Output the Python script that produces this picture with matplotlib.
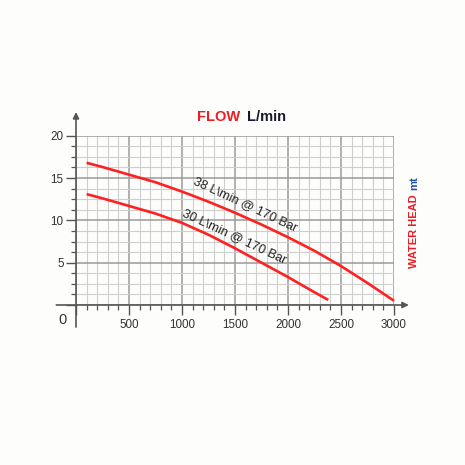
import matplotlib
matplotlib.use("Agg")
import matplotlib.pyplot as plt
import numpy as np

# Data
flow_38 = [100, 250, 500, 750, 1000, 1250, 1500, 1750, 2000, 2250, 2500, 2750, 3000]
head_38 = [16.8, 16.3, 15.4, 14.5, 13.4, 12.2, 10.9, 9.5, 8.0, 6.4, 4.6, 2.6, 0.5]
flow_30 = [100, 250, 500, 750, 1000, 1250, 1500, 1750, 2000, 2250, 2380]
head_30 = [13.1, 12.6, 11.7, 10.8, 9.7, 8.3, 6.7, 5.0, 3.3, 1.5, 0.6]
label_38 = "38 L\\min @ 170 Bar"
label_30 = "30 L\\min @ 170 Bar"
x_major = [0, 500, 1000, 1500, 2000, 2500, 3000]
x_labels = ["", "500", "1000", "1500", "2000", "2500", "3000"]
y_major = [0, 5, 10, 15, 20]
y_labels = ["", "5", "10", "15", "20"]

plt.rcParams['font.family'] = ['Liberation Sans', 'DejaVu Sans']

fig = plt.figure(figsize=(4.65, 4.65), dpi=100)
fig.patch.set_facecolor('#fdfdfc')
W = H = 465
ax = fig.add_axes([76 / W, (H - 305) / H, 318 / W, 169.3 / H])
ax.set_facecolor('#fdfdfc')
ax.set_xlim(0, 3000)
ax.set_ylim(0, 20)

ax.set_xticks(x_major)
ax.set_xticklabels(x_labels)
ax.set_xticks(np.arange(0, 3001, 100), minor=True)
ax.set_yticks(y_major)
ax.set_yticklabels(y_labels)
ax.set_yticks(np.arange(0, 20.01, 1.25), minor=True)

ax.grid(which='minor', color='#cfcfcf', linewidth=0.8)
ax.grid(which='major', color='#9a9a9a', linewidth=1.1)
ax.set_axisbelow(True)
for s in ax.spines.values():
    s.set_visible(False)

ax.tick_params(axis='x', which='major', length=7, width=1.0, color='#555555',
               labelsize=8.4, labelcolor='#333333', pad=3)
ax.tick_params(axis='x', which='minor', length=3.6, width=0.9, color='#555555')
ax.tick_params(axis='y', which='major', length=7, width=1.0, color='#555555',
               labelsize=8.4, labelcolor='#333333', pad=2)
ax.tick_params(axis='y', which='minor', length=3.6, width=0.9, color='#555555')

# axes with arrows
ax.annotate('', xy=(0, 22.8), xytext=(0, -2.6), annotation_clip=False,
            arrowprops=dict(arrowstyle='-|>', color='#555555', lw=1.2,
                            mutation_scale=9, shrinkA=0, shrinkB=0))
ax.annotate('', xy=(3140, 0), xytext=(-186, 0), annotation_clip=False,
            arrowprops=dict(arrowstyle='-|>', color='#555555', lw=1.2,
                            mutation_scale=9, shrinkA=0, shrinkB=0))

ax.text(-130, -1.8, "0", fontsize=10.5, color='#333333', ha='center', va='center',
        clip_on=False)

red = '#ff2121'
ax.plot(flow_38, head_38, color=red, lw=1.9, solid_capstyle='butt', clip_on=False)
ax.plot(flow_30, head_30, color=red, lw=1.9, solid_capstyle='butt', clip_on=False)

ax.text(1600, 11.9, label_38, fontsize=9.2, color='#222222', rotation=-25,
        ha='center', va='center', rotation_mode='anchor')
ax.text(1490, 8.1, label_30, fontsize=9.2, color='#222222', rotation=-25,
        ha='center', va='center', rotation_mode='anchor')

# title
fig.text(197 / W, 1 - 117 / H, "FLOW", color='#ee1c25', fontsize=10.5,
         fontweight='bold', ha='left', va='center')
fig.text(247 / W, 1 - 117 / H, "L/min", color='#1a1a2e', fontsize=10.5,
         fontweight='bold', ha='left', va='center')

# right label
fig.text(414 / W, 1 - 268 / H, "WATER HEAD", color='#ee1c25', fontsize=8,
         fontweight='bold', rotation=90, ha='center', va='bottom')
fig.text(414 / W, 1 - 190 / H, "mt", color='#1f4fa8', fontsize=8,
         fontweight='bold', rotation=90, ha='center', va='bottom')

fig.savefig("out.png", dpi=100, facecolor=fig.get_facecolor())
